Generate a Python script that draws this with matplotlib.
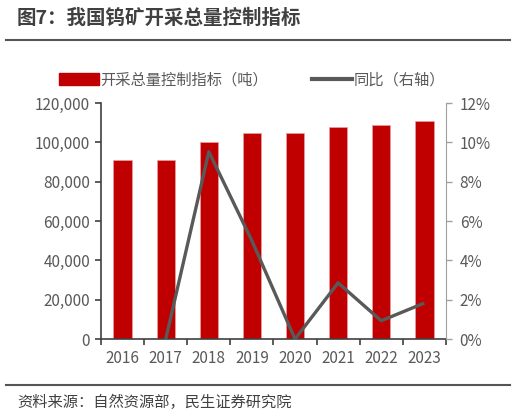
import matplotlib
matplotlib.use('Agg')
import matplotlib.pyplot as plt
import numpy as np
from matplotlib.lines import Line2D
from matplotlib.ticker import FuncFormatter

plt.rcParams['font.family'] = ['Noto Sans CJK SC', 'DejaVu Sans']

years = ['2016', '2017', '2018', '2019', '2020', '2021', '2022', '2023']
quota = [91300, 91300, 100000, 105000, 105000, 108000, 109000, 111000]
# 同比，2016 无数据
yoy = [None, 0.0, 9.53, 5.0, 0.0, 2.86, 0.93, 1.83]

red = '#C00000'
grey = '#595959'

fig = plt.figure(figsize=(5.16, 4.16), dpi=100)
ax = fig.add_axes([0.196, 0.185, 0.668, 0.567])
ax2 = ax.twinx()

x = np.arange(len(years))
ax.bar(x, quota, width=0.43, color=red, edgecolor='#e8a0a0', linewidth=0.5, zorder=2)
ax.set_ylim(0, 120000)
ax.set_xlim(-0.5, len(years) - 0.5)
ax.set_yticks(np.arange(0, 120001, 20000))
ax.yaxis.set_major_formatter(FuncFormatter(lambda v, p: '{:,.0f}'.format(v)))
ax.set_xticks(x)
ax.set_xticklabels(years)
ax.set_xticks(np.arange(-0.5, len(years)), minor=True)
ax.tick_params(axis='x', which='major', length=0, pad=8)
ax.tick_params(axis='x', which='minor', length=4, color='#404040', width=1.2)
ax.tick_params(axis='y', length=4, color='#404040', width=1.2, pad=4)
ax.tick_params(labelsize=11, labelcolor=grey)

yx = [i for i in x if yoy[i] is not None]
yv = [v for v in yoy if v is not None]
ax2.plot(yx, yv, color=grey, linewidth=2.4, solid_capstyle='butt', zorder=3)
ax2.set_ylim(0, 12)
ax2.set_yticks(np.arange(0, 13, 2))
ax2.yaxis.set_major_formatter(FuncFormatter(lambda v, p: '%d%%' % v))
ax2.tick_params(axis='y', length=4, color='#a0a0a0', width=1, labelsize=11, labelcolor=grey, pad=6)

for a in (ax, ax2):
    a.spines['top'].set_visible(False)
ax.spines['left'].set_color('#404040')
ax.spines['left'].set_linewidth(1.2)
ax.spines['bottom'].set_color('#404040')
ax.spines['bottom'].set_linewidth(1.2)
ax.spines['right'].set_visible(False)
ax2.spines['left'].set_visible(False)
ax2.spines['bottom'].set_visible(False)
ax2.spines['right'].set_color('#a0a0a0')

handles = [plt.Rectangle((0, 0), 1, 1, color=red),
           Line2D([0], [0], color=grey, linewidth=3)]
labels = ['开采总量控制指标（吨）', '同比（右轴）']
fig.legend(handles, labels, loc='center', bbox_to_anchor=(0.488, 0.808), ncol=2,
           frameon=False, fontsize=11, labelcolor=grey, handlelength=2.6,
           handleheight=0.8, handletextpad=0.1, columnspacing=2.9)

fig.text(0.033, 0.957, '图7：我国钨矿开采总量控制指标', fontsize=14, fontweight='bold',
         color='#404040', va='center', ha='left')
fig.add_artist(Line2D([0.012, 0.988], [0.904, 0.904], color='#555555', linewidth=1.5))
fig.add_artist(Line2D([0.012, 0.988], [0.075, 0.075], color='#555555', linewidth=1.5))
fig.text(0.033, 0.033, '资料来源：自然资源部，民生证券研究院', fontsize=11,
         color='#404040', va='center', ha='left')

fig.savefig('out.png', dpi=100)
